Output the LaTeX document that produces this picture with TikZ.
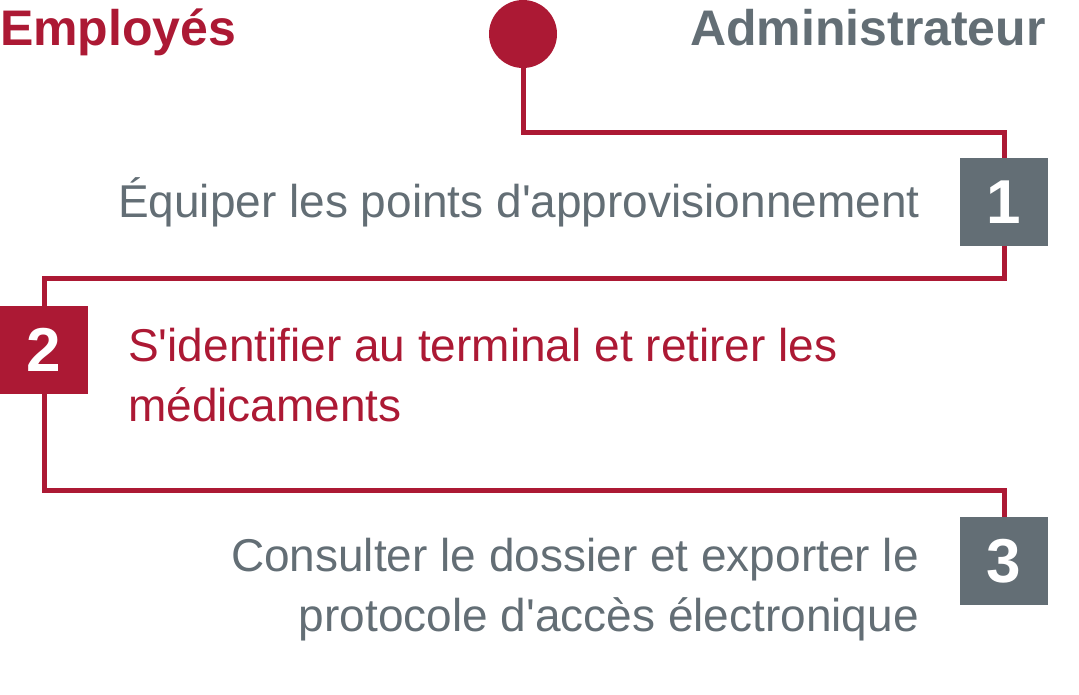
\documentclass[tikz,border=0pt]{standalone}
\usepackage{fontspec}
\setmainfont{Liberation Sans}
\usepackage{tikz}
\usetikzlibrary{positioning}
\definecolor{brandred}{RGB}{172,25,52}
\definecolor{slategray}{RGB}{99,110,117}
\tikzstyle{numbox} = [rectangle, minimum width=88pt, minimum height=88pt, inner sep=0pt, text=white, font=\fontsize{62}{62}\selectfont\bfseries]
\tikzstyle{steptext} = [inner sep=0pt, font=\fontsize{46}{60}\selectfont]
\tikzstyle{heading} = [inner sep=0pt, font=\fontsize{50}{50}\selectfont\bfseries]
\tikzstyle{link} = [line width=5pt, draw=brandred]

\begin{document}
\begin{tikzpicture}[x=1pt, y=-1pt, node distance=40pt]
    \useasboundingbox (0,0) rectangle (1079,694);
    % Headings
    \node (staff) [heading, text=brandred, anchor=base west] at (0,45) {Employés};
    \node (admin) [heading, text=slategray, anchor=base east] at (1046,45) {Administrateur};

    % Start point
    \node (start) [circle, fill=brandred, minimum size=68pt, inner sep=0pt] at (523,34) {};

    % Numbered steps
    \node (num1) [numbox, fill=slategray] at (1004,202) {1};
    \node (num2) [numbox, fill=brandred] at (44,350) {2};
    \node (num3) [numbox, fill=slategray] at (1004,561) {3};

    % Step texts
    \node (step1) [steptext, text=slategray, left=of num1] {Équiper les points d\textquotesingle approvisionnement};
    \node (step2) [steptext, text=brandred, align=left, anchor=north west] at (128,328) {S\textquotesingle identifier au terminal et retirer les\\médicaments};
    \node (step3) [steptext, text=slategray, align=right, anchor=north east] at (919,538) {Consulter le dossier et exporter le\\protocole d\textquotesingle accès électronique};

    % Path
    \coordinate (turn0) at (1004,132);
    \coordinate (turn1) at (1004,278);
    \coordinate (turn2) at (1004,490);
    \draw [link] (start) |- (turn0) -- (num1);
    \draw [link] (num1) -- (turn1) -| (num2);
    \draw [link] (num2) |- (turn2) -- (num3);
\end{tikzpicture}
\end{document}
